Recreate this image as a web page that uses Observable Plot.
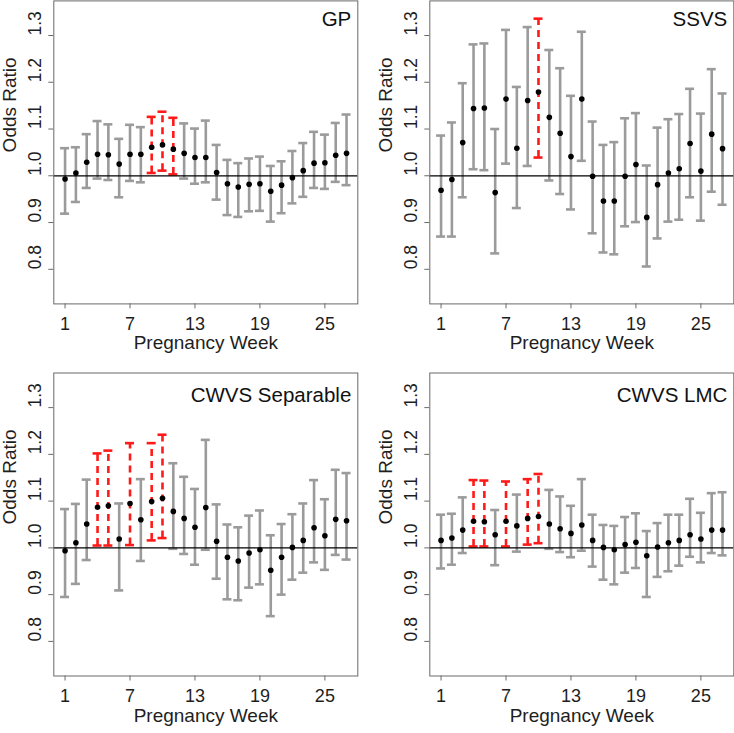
<!DOCTYPE html>
<html>
<head>
<meta charset="utf-8">
<script src="https://cdn.jsdelivr.net/npm/d3@7"></script>
<script src="https://cdn.jsdelivr.net/npm/@observablehq/plot@0.6"></script>
<style>
html, body { margin: 0; padding: 0; background: #fff; overflow: hidden; }
#root { position: relative; width: 734px; height: 733px; background: #fff; }
.panel { position: absolute; }
</style>
</head>
<body>
<div id="root"></div>
<script>
// ---- data ----
const weeks = [1,2,3,4,5,6,7,8,9,10,11,12,13,14,15,16,17,18,19,20,21,22,23,24,25,26,27];
const xTicks = [1, 7, 13, 19, 25];
const yTicks = [0.8, 0.9, 1.0, 1.1, 1.2, 1.3];
const yTickLabels = ["0.8", "0.9", "1.0", "1.1", "1.2", "1.3"];
const panelTitles = ["GP", "SSVS", "CWVS Separable", "CWVS LMC"];
const xLabel = "Pregnancy Week";
const yLabel = "Odds Ratio";

const gpEst  = [0.993,1.006,1.029,1.046,1.045,1.025,1.046,1.046,1.061,1.066,1.057,1.048,1.039,1.039,1.007,0.983,0.976,0.982,0.983,0.967,0.980,0.996,1.011,1.027,1.028,1.044,1.048];
const gpLow  = [0.919,0.944,0.974,0.994,0.991,0.954,0.989,0.986,1.006,1.011,1.003,0.994,0.983,0.986,0.949,0.916,0.912,0.924,0.925,0.902,0.920,0.941,0.955,0.974,0.972,0.987,0.980];
const gpHigh = [1.059,1.061,1.089,1.117,1.110,1.079,1.109,1.104,1.126,1.137,1.124,1.112,1.101,1.118,1.066,1.034,1.027,1.037,1.041,1.021,1.031,1.053,1.070,1.094,1.088,1.113,1.131];
const gpSig  = [9, 10, 11];

const ssvsEst  = [0.969,0.992,1.071,1.144,1.145,0.964,1.164,1.059,1.161,1.179,1.125,1.091,1.041,1.164,0.999,0.946,0.946,0.999,1.024,0.911,0.981,1.006,1.015,1.069,1.010,1.089,1.058];
const ssvsLow  = [0.870,0.870,0.954,1.014,1.012,0.834,1.026,0.931,1.021,1.039,0.990,0.961,0.928,1.032,0.877,0.836,0.832,0.892,0.901,0.806,0.866,0.902,0.906,0.954,0.904,0.966,0.938];
const ssvsHigh = [1.086,1.114,1.198,1.281,1.283,1.100,1.312,1.190,1.318,1.336,1.269,1.230,1.171,1.308,1.116,1.066,1.072,1.123,1.134,1.022,1.103,1.121,1.132,1.186,1.133,1.228,1.176];
const ssvsSig  = [10];

const sepEst  = [0.994,1.011,1.051,1.087,1.090,1.019,1.095,1.060,1.099,1.106,1.078,1.063,1.044,1.086,1.014,0.980,0.972,0.989,0.996,0.952,0.980,1.001,1.016,1.043,1.026,1.061,1.058];
const sepLow  = [0.895,0.923,0.974,1.005,1.005,0.909,1.006,0.972,1.016,1.021,0.998,0.987,0.964,0.996,0.934,0.890,0.888,0.915,0.922,0.854,0.900,0.932,0.947,0.969,0.953,0.985,0.975];
const sepHigh = [1.083,1.094,1.146,1.202,1.208,1.095,1.224,1.147,1.224,1.242,1.181,1.152,1.126,1.231,1.093,1.050,1.044,1.069,1.080,1.027,1.051,1.072,1.095,1.145,1.104,1.167,1.160];
const sepSig  = [4, 5, 7, 9, 10];

const lmcEst  = [1.016,1.021,1.038,1.057,1.056,1.028,1.057,1.047,1.063,1.067,1.051,1.041,1.031,1.049,1.016,1.001,0.996,1.007,1.012,0.983,1.002,1.011,1.016,1.028,1.019,1.038,1.038];
const lmcLow  = [0.956,0.964,0.989,1.003,1.003,0.963,1.003,0.992,1.007,1.010,0.998,0.991,0.980,0.994,0.960,0.932,0.922,0.947,0.957,0.895,0.938,0.950,0.962,0.981,0.969,0.989,0.984];
const lmcHigh = [1.071,1.073,1.108,1.145,1.144,1.081,1.142,1.114,1.147,1.158,1.124,1.110,1.090,1.147,1.071,1.049,1.047,1.066,1.074,1.036,1.053,1.071,1.071,1.105,1.075,1.117,1.119];
const lmcSig  = [4, 5, 7, 9, 10];

// ---- style ----
const FONT = "'Liberation Sans', Arial, Helvetica, sans-serif";
const GRAY = "#9b9b9b";
const RED = "#ff1a1a";
const BOX = "#6a6a6a";
const TXT = "#1e1e1e";

function panel(title, est, low, high, sig, left, top, width, height, mt, mr, mb, titleDy) {
  const data = weeks.map((w, i) => ({ w, est: est[i], low: low[i], high: high[i], sig: sig.includes(w) }));
  const normal = data.filter(d => !d.sig);
  const signif = data.filter(d => d.sig);
  const yt = yTicks.map((v, i) => ({ v, label: yTickLabels[i] }));
  const capInset = -4.5;
  const plot = Plot.plot({
    width, height,
    marginLeft: 53.3, marginRight: mr, marginTop: mt, marginBottom: mb,
    style: { fontFamily: FONT, fontSize: "18px", color: TXT, background: "transparent", overflow: "visible" },
    x: { domain: [-0.04, 28.04] },
    y: { domain: [0.726, 1.374] },
    marks: [
      // grey intervals
      Plot.ruleX(normal, { x: "w", y1: "low", y2: "high", stroke: GRAY, strokeWidth: 2.6 }),
      Plot.ruleY(normal, { x1: "w", x2: "w", y: "high", stroke: GRAY, strokeWidth: 2.6, insetLeft: capInset, insetRight: capInset }),
      Plot.ruleY(normal, { x1: "w", x2: "w", y: "low", stroke: GRAY, strokeWidth: 2.6, insetLeft: capInset, insetRight: capInset }),
      // red significant intervals
      Plot.ruleX(signif, { x: "w", y1: "low", y2: "high", stroke: RED, strokeWidth: 2.6, strokeDasharray: "7,5" }),
      Plot.ruleY(signif, { x1: "w", x2: "w", y: "high", stroke: RED, strokeWidth: 2.6, insetLeft: capInset, insetRight: capInset }),
      Plot.ruleY(signif, { x1: "w", x2: "w", y: "low", stroke: RED, strokeWidth: 2.6, insetLeft: capInset, insetRight: capInset }),
      // reference line
      Plot.ruleY([1], { stroke: "#000", strokeWidth: 1.2 }),
      // point estimates
      Plot.dot(data, { x: "w", y: "est", r: 2.8, fill: "#000", stroke: "none" }),
      // frame
      Plot.frame({ stroke: BOX, strokeWidth: 1 }),
      // x axis
      Plot.axisX(xTicks, { tickSize: 5, tickPadding: 8, stroke: BOX, fill: TXT, fontSize: 18, label: null }),
      // y axis ticks (labels drawn rotated below)
      Plot.axisY(yTicks, { tickSize: 5, tickFormat: () => "", stroke: BOX, label: null }),
      Plot.text(yt, { y: "v", text: "label", frameAnchor: "left", dx: -18.5, rotate: -90, fontSize: 17.5, fill: TXT }),
      // axis titles
      Plot.text([yLabel], { text: d => d, frameAnchor: "left", dx: -44, rotate: -90, fontSize: 19, fill: TXT }),
      Plot.text([xLabel], { text: d => d, frameAnchor: "bottom", dy: 45.5, fontSize: 19, fill: TXT }),
      // panel title
      Plot.text([title], { text: d => d, frameAnchor: "top-right", textAnchor: "end", lineAnchor: "top", dx: -6.5, dy: titleDy, fontSize: 20.5, fill: "#111" })
    ]
  });
  plot.classList.add("panel");
  plot.style.left = left + "px";
  plot.style.top = top + "px";
  document.getElementById("root").appendChild(plot);
}

panel(panelTitles[0], gpEst, gpLow, gpHigh, gpSig, 0, 0, 367, 366, 0.4, 9.7, 62.6, 11);
panel(panelTitles[1], ssvsEst, ssvsLow, ssvsHigh, ssvsSig, 376, 0, 358, 366, 0.4, 0.7, 62.6, 11);
panel(panelTitles[2], sepEst, sepLow, sepHigh, sepSig, 0, 371.5, 367, 361.5, 0.5, 9.7, 58, 14);
panel(panelTitles[3], lmcEst, lmcLow, lmcHigh, lmcSig, 376, 371.5, 358, 361.5, 0.5, 0.7, 58, 14);
</script>
</body>
</html>
